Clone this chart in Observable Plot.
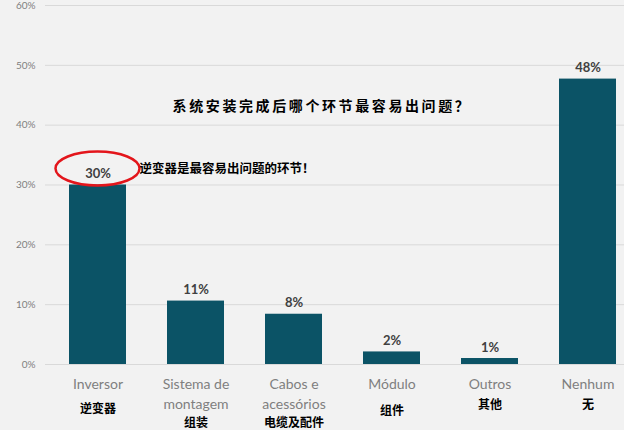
<!DOCTYPE html>
<html><head><meta charset="utf-8">
<script src="https://cdn.jsdelivr.net/npm/d3@7"></script>
<script src="https://cdn.jsdelivr.net/npm/@observablehq/plot@0.6"></script>
<style>
html,body{margin:0;padding:0;background:#f2f2f2;}
#chart{width:624px;height:430px;overflow:hidden;}
</style></head>
<body><div id="chart"></div>
<script>
const categories = ["Inversor", "Sistema de\nmontagem", "Cabos e\nacessórios", "Módulo", "Outros", "Nenhum"];
const chineseLabels = ["逆变器", "组装", "电缆及配件", "组件", "其他", "无"];
const values = [30.0, 10.6, 8.4, 2.1, 1.0, 47.7];
const valueLabels = ["30%", "11%", "8%", "2%", "1%", "48%"];
const yTicks = [0, 10, 20, 30, 40, 50, 60];
const title = "系统安装完成后哪个环节最容易出问题？";
const note = "逆变器是最容易出问题的环节！";
const highlight = "Inversor";

// layout offsets for the Chinese sub-labels (px below the baseline)
const chineseDy = [45, 59, 59, 47, 41, 41];

const data = categories.map((c, i) => ({cat: c, cn: chineseLabels[i], v: values[i], lab: valueLabels[i], dy: chineseDy[i]}));

const plot = Plot.plot({
  width: 624,
  height: 430,
  marginTop: 5,
  marginBottom: 66,
  marginLeft: 45,
  marginRight: 0,
  style: {background: "#f2f2f2", fontFamily: "Lato, 'Open Sans', sans-serif"},
  x: {domain: categories, paddingInner: 0.42, paddingOuter: 0.149, align: 0.75, label: null},
  y: {domain: [0, 60], label: null},
  marks: [
    Plot.gridY(yTicks, {stroke: "#d9d9d9", strokeOpacity: 1, strokeWidth: 1}),
    Plot.axisY(yTicks, {tickSize: 0, tickPadding: 10, tickFormat: d => d + "%", fill: "#7f7f7f", fontSize: 10, label: null}),
    Plot.barY(data, {x: "cat", y: "v", fill: "#0b5366"}),
    Plot.text(data, {x: "cat", y: "v", text: "lab", lineAnchor: "bottom", dy: -7, fontSize: 13, fontWeight: "bold", fill: "#404040"}),
    Plot.axisX({tickSize: 0, tickPadding: 11, fontSize: 14, fill: "#7f7f7f", lineHeight: 1.4, label: null}),
    ...data.map(d => Plot.text([d], {x: "cat", y: () => 0, text: "cn", dy: d.dy, fontSize: 12, fontWeight: "bold", fill: "#000", fontFamily: "'Noto Sans CJK SC', sans-serif"}))
  ]
});

document.getElementById("chart").appendChild(plot);

// annotations positioned through the scales
const sx = plot.scale("x"), sy = plot.scale("y");
const svg = d3.select(plot);
const cx = sx.apply(highlight) + sx.bandwidth / 2;
const cy = sy.apply(values[0]) - 16;
svg.append("ellipse")
  .attr("cx", cx).attr("cy", cy).attr("rx", 42).attr("ry", 17)
  .attr("fill", "none").attr("stroke", "#e3151b").attr("stroke-width", 2.5);
svg.append("text")
  .attr("x", cx + 42).attr("y", cy + 1)
  .attr("text-anchor", "start")
  .attr("dominant-baseline", "middle")
  .attr("font-family", "'Noto Sans CJK SC', sans-serif")
  .attr("font-weight", "bold").attr("font-size", 12.5).attr("fill", "#000")
  .text(note);
svg.append("text")
  .attr("x", 322).attr("y", sy.apply(43))
  .attr("text-anchor", "middle").attr("dominant-baseline", "middle")
  .attr("font-family", "'Noto Sans CJK SC', sans-serif")
  .attr("font-weight", "bold").attr("font-size", 14).attr("letter-spacing", 2.6).attr("fill", "#000")
  .text(title);
</script>
</body></html>
